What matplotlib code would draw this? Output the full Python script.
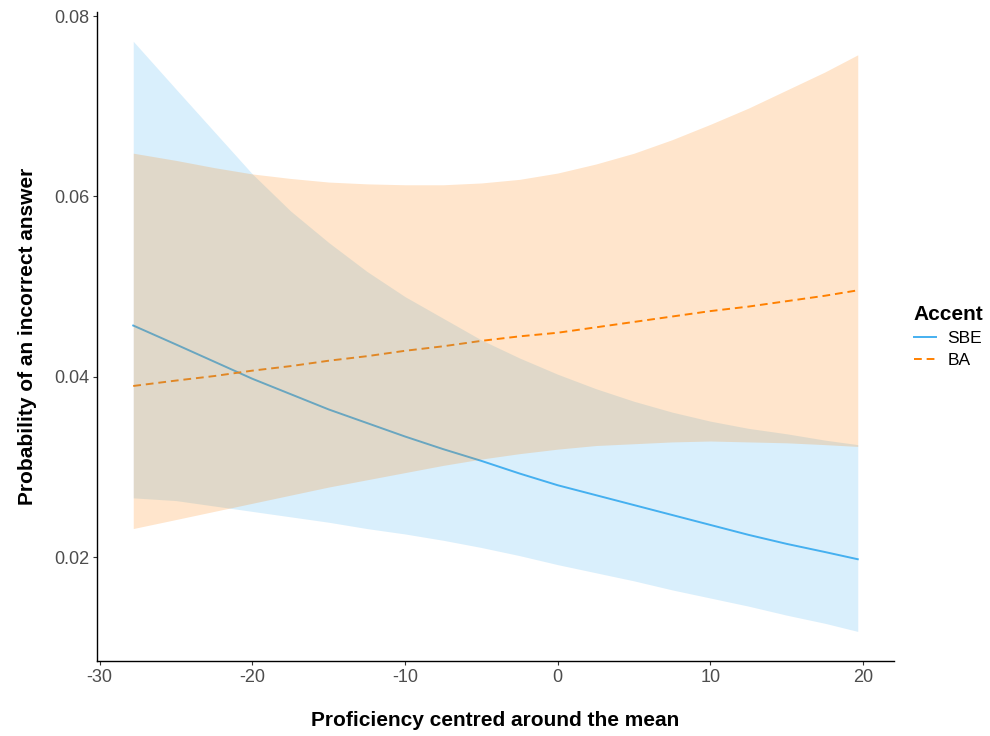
import matplotlib.pyplot as plt

# proficiency (centred) grid and predicted probabilities
proficiency = [-27.8, -25, -22.5, -20, -17.5, -15, -12.5, -10, -7.5, -5,
               -2.5, 0, 2.5, 5, 7.5, 10, 12.5, 15, 17.5, 19.65]

sbe_fit = [0.0457, 0.0436, 0.0417, 0.0398, 0.0381, 0.0364, 0.0349, 0.0334, 0.0320, 0.0307,
           0.0293, 0.0280, 0.0269, 0.0258, 0.0247, 0.0236, 0.0225, 0.0215, 0.0206, 0.0198]
sbe_low = [0.0266, 0.0263, 0.0257, 0.0251, 0.0245, 0.0239, 0.0232, 0.0226, 0.0219, 0.0211,
           0.0202, 0.0192, 0.0183, 0.0174, 0.0164, 0.0155, 0.0146, 0.0136, 0.0127, 0.0118]
sbe_high = [0.0772, 0.0719, 0.0672, 0.0625, 0.0584, 0.0549, 0.0517, 0.0489, 0.0465, 0.0441,
            0.0421, 0.0403, 0.0387, 0.0373, 0.0361, 0.0351, 0.0343, 0.0337, 0.0330, 0.0325]

ba_fit = [0.0390, 0.0396, 0.0401, 0.0407, 0.0412, 0.0418, 0.0423, 0.0429, 0.0434, 0.0440,
          0.0445, 0.0449, 0.0455, 0.0461, 0.0467, 0.0473, 0.0478, 0.0484, 0.0490, 0.0496]
ba_low = [0.0232, 0.0242, 0.0251, 0.0260, 0.0269, 0.0278, 0.0286, 0.0294, 0.0302, 0.0309,
          0.0315, 0.0320, 0.0324, 0.0326, 0.0328, 0.0329, 0.0328, 0.0327, 0.0325, 0.0323]
ba_high = [0.0648, 0.0640, 0.0632, 0.0625, 0.0620, 0.0616, 0.0614, 0.0613, 0.0613, 0.0615,
           0.0619, 0.0626, 0.0636, 0.0648, 0.0663, 0.0680, 0.0698, 0.0718, 0.0738, 0.0757]

x_ticks = [-30, -20, -10, 0, 10, 20]
y_ticks = [0.02, 0.04, 0.06, 0.08]

SBE_COLOR = "#45B0F0"
BA_COLOR = "#FF8000"

plt.rcParams["font.family"] = ["Liberation Sans", "DejaVu Sans"]

fig = plt.figure(figsize=(9.9, 7.36), dpi=100)
ax = fig.add_axes([0.098, 0.102, 0.805, 0.882])

# lines first, ribbons drawn on top of them (as in the original)
ax.plot(proficiency, sbe_fit, color=SBE_COLOR, linewidth=1.4, label="SBE", zorder=1)
ax.plot(proficiency, ba_fit, color=BA_COLOR, linewidth=1.4, linestyle=(0, (4, 2.5)),
        label="BA", zorder=1)
ax.fill_between(proficiency, sbe_low, sbe_high, color=SBE_COLOR, alpha=0.2,
                linewidth=0, zorder=2)
ax.fill_between(proficiency, ba_low, ba_high, color=BA_COLOR, alpha=0.2,
                linewidth=0, zorder=3)

x_span = proficiency[-1] - proficiency[0]
ax.set_xlim(proficiency[0] - 0.05 * x_span, proficiency[-1] + 0.05 * x_span)
y_min = min(sbe_low + ba_low)
y_max = max(sbe_high + ba_high)
y_span = y_max - y_min
ax.set_ylim(y_min - 0.05 * y_span, y_max + 0.05 * y_span)

ax.set_xticks(x_ticks)
ax.set_xticklabels([str(t) for t in x_ticks])
ax.set_yticks(y_ticks)
ax.set_yticklabels([f"{t:.2f}" for t in y_ticks])
ax.tick_params(axis="both", colors="#333333", labelcolor="#4D4D4D", labelsize=13,
               length=3, width=0.8, pad=2.5)

for side in ["top", "right"]:
    ax.spines[side].set_visible(False)
for side in ["left", "bottom"]:
    ax.spines[side].set_color("black")
    ax.spines[side].set_linewidth(1.0)

ax.set_xlabel("Proficiency centred around the mean", fontsize=15, fontweight="bold",
              labelpad=18)
ax.set_ylabel("Probability of an incorrect answer", fontsize=15, fontweight="bold",
              labelpad=12)

leg = ax.legend(loc="center left", bbox_to_anchor=(1.005, 0.5), frameon=False,
                title="Accent", fontsize=12.5, handlelength=1.3, handletextpad=0.65,
                labelspacing=0.4, alignment="left")
leg.get_title().set_fontsize(15)
leg.get_title().set_fontweight("bold")

fig.savefig("out.png", dpi=100)
plt.close(fig)
